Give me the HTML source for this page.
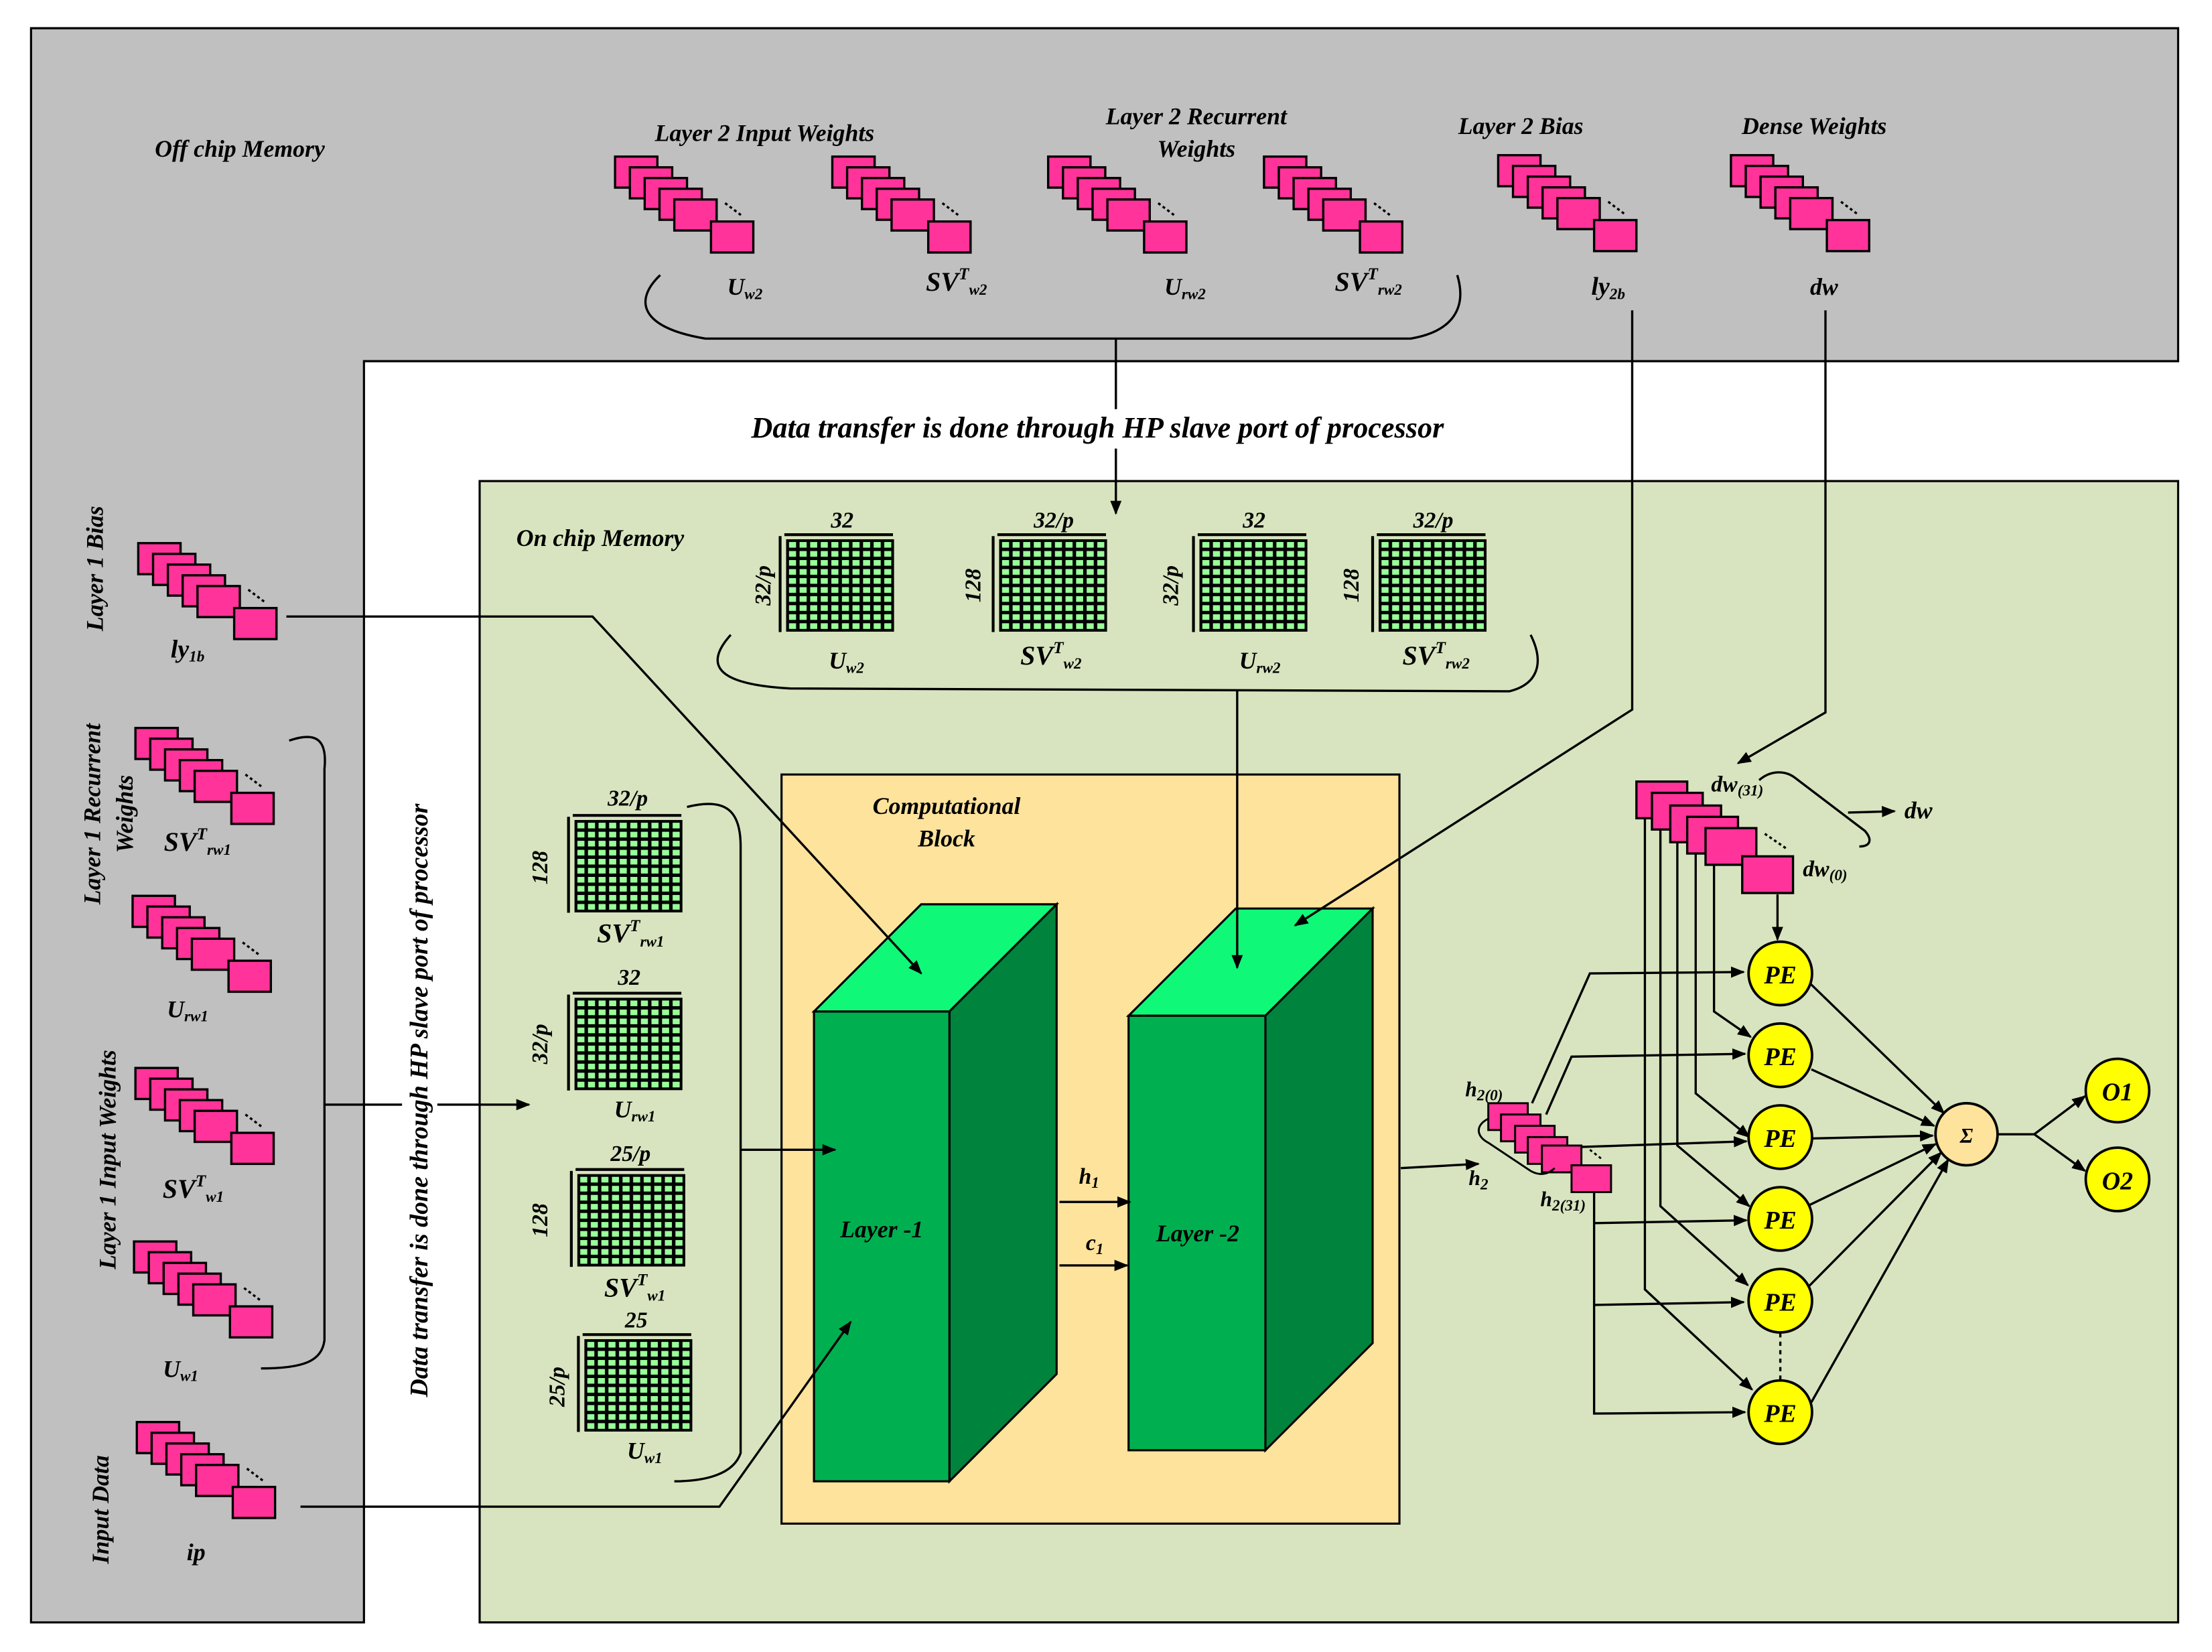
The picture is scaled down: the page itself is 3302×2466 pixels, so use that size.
<!DOCTYPE html>
<html><head><meta charset="utf-8"><style>
html,body{margin:0;padding:0;background:#fff}
svg{display:block}
text{font-family:"Liberation Serif",serif;font-weight:bold;font-style:italic;fill:#000}
</style></head><body>
<svg width="3302" height="2466" viewBox="0 0 1568 1171" preserveAspectRatio="none" xmlns="http://www.w3.org/2000/svg">
<defs>
<marker id="a" markerWidth="10" markerHeight="8" refX="9" refY="4" orient="auto" markerUnits="userSpaceOnUse"><path d="M0,0 L10,4 L0,8 z" fill="#000"/></marker>
<pattern id="grid" width="7.5" height="6.4" patternUnits="userSpaceOnUse"><rect width="7.5" height="6.4" fill="#000"/><rect x="1.3" y="1.2" width="5" height="4" fill="#99ff99"/></pattern>
<g id="stk" stroke="#000" stroke-width="1.6" fill="#ff3399">
<rect x="0" y="0" width="30" height="22"/>
<rect x="10.5" y="7.6" width="30" height="22"/>
<rect x="21" y="15.2" width="30" height="22"/>
<rect x="31.5" y="22.8" width="30" height="22"/>
<rect x="42" y="30.4" width="30" height="22"/>
<rect x="68" y="46" width="30" height="22"/>
<line x1="78" y1="33" x2="90" y2="42" stroke-dasharray="2,2" fill="none"/>
</g>
<g id="mx"><rect x="0" y="0" width="75" height="64" fill="url(#grid)" stroke="#000" stroke-width="1.5"/><line x1="-2" y1="-4" x2="75" y2="-4" stroke="#000" stroke-width="2"/><line x1="-5" y1="-3" x2="-5" y2="65" stroke="#000" stroke-width="2"/></g>
</defs>

<polygon points="22,20 1544,20 1544,256 258,256 258,1150 22,1150" fill="#c0c0c0" stroke="#000" stroke-width="1.5"/>
<rect x="340" y="341" width="1204" height="809" fill="#d8e4bf" stroke="#000" stroke-width="1.5"/>
<rect x="554" y="549" width="438" height="531" fill="#fde39c" stroke="#000" stroke-width="1.5"/>

<text x="170" y="111" font-size="17" text-anchor="middle">Off chip Memory</text>
<text x="542" y="100" font-size="17" text-anchor="middle">Layer 2 Input Weights</text>
<text x="848" y="88" font-size="17" text-anchor="middle">Layer 2 Recurrent</text>
<text x="848" y="111" font-size="17" text-anchor="middle">Weights</text>
<text x="1078" y="95" font-size="17" text-anchor="middle">Layer 2 Bias</text>
<text x="1286" y="95" font-size="17" text-anchor="middle">Dense Weights</text>

<use href="#stk" x="436" y="111"/>
<use href="#stk" x="590" y="111"/>
<use href="#stk" x="743" y="111"/>
<use href="#stk" x="896" y="111"/>
<use href="#stk" x="1062" y="110"/>
<use href="#stk" x="1227" y="110"/>

<text x="528" y="209" font-size="17" text-anchor="middle">U<tspan font-size="11" dy="3">w2</tspan></text>
<text x="678" y="206" font-size="19" font-style="normal" text-anchor="middle">SV<tspan font-size="12" dy="-8">T</tspan><tspan font-size="11" dy="11" font-style="italic">w2</tspan></text>
<text x="840" y="209" font-size="17" text-anchor="middle">U<tspan font-size="11" dy="3">rw2</tspan></text>
<text x="970" y="206" font-size="19" font-style="normal" text-anchor="middle">SV<tspan font-size="12" dy="-8">T</tspan><tspan font-size="11" dy="11" font-style="italic">rw2</tspan></text>
<text x="1140" y="209" font-size="18" font-style="normal" text-anchor="middle">ly<tspan font-size="11" dy="3" font-style="italic">2b</tspan></text>
<text x="1293" y="209" font-size="17" text-anchor="middle">dw</text>

<g fill="none" stroke="#000" stroke-width="1.6">
<path d="M468,195 C450,212 452,232 500,240 L1000,240 C1030,235 1040,218 1033,195"/>
<line x1="791" y1="240" x2="791" y2="290"/>
<line x1="791" y1="318" x2="791" y2="364" marker-end="url(#a)"/>
<path d="M1294,220 L1294,505 L1232,541" marker-end="url(#a)"/>
</g>
<text x="778" y="310" font-size="21" text-anchor="middle">Data transfer is done through HP slave port of processor</text>

<text x="366" y="387" font-size="17">On chip Memory</text>

<use href="#mx" x="558" y="383"/>
<use href="#mx" x="709" y="383"/>
<use href="#mx" x="851" y="383"/>
<use href="#mx" x="978" y="383"/>
<text x="597" y="374" font-size="16" text-anchor="middle">32</text>
<text x="747" y="374" font-size="16" text-anchor="middle">32/p</text>
<text x="889" y="374" font-size="16" text-anchor="middle">32</text>
<text x="1016" y="374" font-size="16" text-anchor="middle">32/p</text>
<text transform="translate(546,415) rotate(-90)" font-size="16" text-anchor="middle">32/p</text>
<text transform="translate(695,415) rotate(-90)" font-size="16" text-anchor="middle">128</text>
<text transform="translate(835,415) rotate(-90)" font-size="16" text-anchor="middle">32/p</text>
<text transform="translate(963,415) rotate(-90)" font-size="16" text-anchor="middle">128</text>
<text x="600" y="474" font-size="17" text-anchor="middle">U<tspan font-size="11" dy="3">w2</tspan></text>
<text x="745" y="471" font-size="19" font-style="normal" text-anchor="middle">SV<tspan font-size="12" dy="-8">T</tspan><tspan font-size="11" dy="11" font-style="italic">w2</tspan></text>
<text x="893" y="474" font-size="17" text-anchor="middle">U<tspan font-size="11" dy="3">rw2</tspan></text>
<text x="1018" y="471" font-size="19" font-style="normal" text-anchor="middle">SV<tspan font-size="12" dy="-8">T</tspan><tspan font-size="11" dy="11" font-style="italic">rw2</tspan></text>
<path d="M518,450 C500,470 505,485 560,488 L1070,490 C1090,485 1095,470 1085,450" fill="none" stroke="#000" stroke-width="1.6"/>

<text transform="translate(73,403) rotate(-90)" font-size="17" text-anchor="middle">Layer 1 Bias</text>
<text transform="translate(71,577) rotate(-90)" font-size="17" text-anchor="middle">Layer 1 Recurrent</text>
<text transform="translate(94,577) rotate(-90)" font-size="17" text-anchor="middle">Weights</text>
<text transform="translate(82,822) rotate(-90)" font-size="17" text-anchor="middle">Layer 1 Input Weights</text>
<text transform="translate(77,1070) rotate(-90)" font-size="17" text-anchor="middle">Input Data</text>

<use href="#stk" x="98" y="385"/>
<use href="#stk" x="96" y="516"/>
<use href="#stk" x="94" y="635"/>
<use href="#stk" x="96" y="757"/>
<use href="#stk" x="95" y="880"/>
<use href="#stk" x="97" y="1008"/>

<text x="133" y="466" font-size="18" font-style="normal" text-anchor="middle">ly<tspan font-size="11" dy="3">1b</tspan></text>
<text x="140" y="603" font-size="19" font-style="normal" text-anchor="middle">SV<tspan font-size="12" dy="-8">T</tspan><tspan font-size="11" dy="11" font-style="italic">rw1</tspan></text>
<text x="133" y="721" font-size="17" text-anchor="middle">U<tspan font-size="11" dy="3">rw1</tspan></text>
<text x="137" y="849" font-size="19" text-anchor="middle">SV<tspan font-size="12" dy="-8">T</tspan><tspan font-size="11" dy="11">w1</tspan></text>
<text x="128" y="976" font-size="17" text-anchor="middle">U<tspan font-size="11" dy="3">w1</tspan></text>
<text x="139" y="1106" font-size="17" text-anchor="middle">ip</text>

<g fill="none" stroke="#000" stroke-width="1.6">
<path d="M205,525 C225,518 232,525 230,545 L230,950 C228,965 215,970 185,970"/>
<line x1="230" y1="783" x2="285" y2="783"/>
<line x1="310" y1="783" x2="375" y2="783" marker-end="url(#a)"/>
<path d="M487,572 C515,565 525,575 525,600 L525,1030 C520,1045 500,1050 478,1050"/>
</g>
<text transform="translate(303,780) rotate(-90)" font-size="18" text-anchor="middle">Data transfer is done through HP slave port of processor</text>

<use href="#mx" x="408" y="582"/>
<use href="#mx" x="408" y="708"/>
<use href="#mx" x="410" y="833"/>
<use href="#mx" x="415" y="950"/>
<text x="445" y="571" font-size="16" text-anchor="middle">32/p</text>
<text x="446" y="698" font-size="16" text-anchor="middle">32</text>
<text x="447" y="823" font-size="16" text-anchor="middle">25/p</text>
<text x="451" y="941" font-size="16" text-anchor="middle">25</text>
<text transform="translate(388,615) rotate(-90)" font-size="16" text-anchor="middle">128</text>
<text transform="translate(388,740) rotate(-90)" font-size="16" text-anchor="middle">32/p</text>
<text transform="translate(388,865) rotate(-90)" font-size="16" text-anchor="middle">128</text>
<text transform="translate(400,983) rotate(-90)" font-size="16" text-anchor="middle">25/p</text>
<text x="447" y="668" font-size="19" font-style="normal" text-anchor="middle">SV<tspan font-size="12" dy="-8">T</tspan><tspan font-size="11" dy="11" font-style="italic">rw1</tspan></text>
<text x="450" y="792" font-size="17" text-anchor="middle">U<tspan font-size="11" dy="3">rw1</tspan></text>
<text x="450" y="919" font-size="19" text-anchor="middle">SV<tspan font-size="12" dy="-8">T</tspan><tspan font-size="11" dy="11">w1</tspan></text>
<text x="457" y="1034" font-size="17" text-anchor="middle">U<tspan font-size="11" dy="3">w1</tspan></text>

<text x="671" y="577" font-size="17" text-anchor="middle">Computational</text>
<text x="671" y="600" font-size="17" text-anchor="middle">Block</text>
<g stroke="#000" stroke-width="1.5">
<polygon points="577,717 653,641 749,641 673,717" fill="#10f878"/>
<polygon points="673,717 749,641 749,974 673,1050" fill="#00843d"/>
<rect x="577" y="717" width="96" height="333" fill="#00b050"/>
<polygon points="800,720 876,644 973,644 897,720" fill="#10f878"/>
<polygon points="897,720 973,644 973,952 897,1028" fill="#00843d"/>
<rect x="800" y="720" width="97" height="308" fill="#00b050"/>
</g>
<g fill="none" stroke="#000" stroke-width="1.6">
<path d="M203,437 L420,437 L653,690" marker-end="url(#a)"/>
<path d="M213,1068 L510,1068 L603,937" marker-end="url(#a)"/>
<line x1="525" y1="815" x2="592" y2="815" marker-end="url(#a)"/>
<line x1="877" y1="490" x2="877" y2="686" marker-end="url(#a)"/>
<path d="M1157,220 L1157,503 L918,656" marker-end="url(#a)"/>
<line x1="751" y1="852" x2="801" y2="852" marker-end="url(#a)"/>
<line x1="751" y1="897" x2="799" y2="897" marker-end="url(#a)"/>
<line x1="993" y1="828" x2="1048" y2="825" marker-end="url(#a)"/>
</g>
<text x="625" y="877" font-size="17" text-anchor="middle">Layer -1</text>
<text x="849" y="880" font-size="17" text-anchor="middle">Layer -2</text>
<text x="772" y="839" font-size="16" text-anchor="middle">h<tspan font-size="11" dy="3">1</tspan></text>
<text x="776" y="886" font-size="16" text-anchor="middle">c<tspan font-size="11" dy="3">1</tspan></text>

<g stroke="#000" stroke-width="1.4" fill="#ff3399">
<rect x="1055" y="782" width="28" height="19"/>
<rect x="1064" y="790" width="28" height="19"/>
<rect x="1074" y="798" width="28" height="19"/>
<rect x="1083" y="806" width="28" height="19"/>
<rect x="1093" y="812" width="28" height="19"/>
<rect x="1114" y="826" width="28" height="19"/>
<line x1="1127" y1="815" x2="1136" y2="822" stroke-dasharray="2,2" fill="none"/>
</g>
<text x="1052" y="777" font-size="15" text-anchor="middle">h<tspan font-size="11" dy="3">2(0)</tspan></text>
<text x="1048" y="840" font-size="15" text-anchor="middle">h<tspan font-size="11" dy="3">2</tspan></text>
<text x="1108" y="855" font-size="15" text-anchor="middle">h<tspan font-size="11" dy="3">2(31)</tspan></text>
<path d="M1055,793 C1045,798 1047,806 1055,810 L1085,830 C1092,834 1098,832 1102,828" fill="none" stroke="#000" stroke-width="1.4"/>

<g stroke="#000" stroke-width="1.6" fill="#ff3399">
<rect x="1160" y="554" width="36" height="26"/>
<rect x="1171" y="562" width="36" height="26"/>
<rect x="1184" y="571" width="36" height="26"/>
<rect x="1196" y="579" width="36" height="26"/>
<rect x="1209" y="587" width="36" height="26"/>
<rect x="1235" y="607" width="36" height="26"/>
<line x1="1251" y1="591" x2="1267" y2="602" stroke-dasharray="2,2" fill="none"/>
</g>
<text x="1213" y="561" font-size="16">dw<tspan font-size="11" dy="3">(31)</tspan></text>
<text x="1278" y="621" font-size="16">dw<tspan font-size="11" dy="3">(0)</tspan></text>
<text x="1350" y="580" font-size="17">dw</text>
<g fill="none" stroke="#000" stroke-width="1.6">
<path d="M1247,553 C1255,546 1265,546 1272,551 L1322,589 C1328,596 1325,600 1318,600"/>
<line x1="1310" y1="576" x2="1343" y2="575" marker-end="url(#a)"/>
<line x1="1260" y1="634" x2="1260" y2="666" marker-end="url(#a)"/>
<path d="M1215,613 L1215,717 L1241,735" marker-end="url(#a)"/>
<path d="M1202,605 L1202,775 L1240,806" marker-end="url(#a)"/>
<path d="M1189,597 L1189,812 L1240,855" marker-end="url(#a)"/>
<path d="M1177,588 L1177,855 L1239,911" marker-end="url(#a)"/>
<path d="M1166,580 L1166,914 L1242,985" marker-end="url(#a)"/>
<path d="M1086,782 L1127,690 L1236,689" marker-end="url(#a)"/>
<path d="M1096,790 L1114,749 L1237,747" marker-end="url(#a)"/>
<line x1="1121" y1="813" x2="1238" y2="809" marker-end="url(#a)"/>
<path d="M1130,845 L1130,1002 L1237,1001" marker-end="url(#a)"/>
<line x1="1130" y1="867" x2="1238" y2="865" marker-end="url(#a)"/>
<line x1="1130" y1="925" x2="1236" y2="923" marker-end="url(#a)"/>
<line x1="1262" y1="945" x2="1262" y2="978" stroke-dasharray="3,3"/>
<line x1="1283" y1="697" x2="1378" y2="789" marker-end="url(#a)"/>
<line x1="1284" y1="758" x2="1371" y2="798" marker-end="url(#a)"/>
<line x1="1284" y1="807" x2="1370" y2="805" marker-end="url(#a)"/>
<line x1="1283" y1="854" x2="1372" y2="811" marker-end="url(#a)"/>
<line x1="1282" y1="912" x2="1376" y2="817" marker-end="url(#a)"/>
<line x1="1284" y1="994" x2="1381" y2="822" marker-end="url(#a)"/>
<path d="M1415,804 L1442,804 L1478,777" marker-end="url(#a)"/>
<line x1="1442" y1="804" x2="1478" y2="830" marker-end="url(#a)"/>
</g>
<g stroke="#000" stroke-width="1.8" fill="#ffff00">
<circle cx="1262" cy="690" r="22.5"/>
<circle cx="1262" cy="748" r="22.5"/>
<circle cx="1262" cy="806" r="22.5"/>
<circle cx="1262" cy="864" r="22.5"/>
<circle cx="1262" cy="922" r="22.5"/>
<circle cx="1262" cy="1001" r="22.5"/>
<circle cx="1501" cy="773" r="22.5"/>
<circle cx="1501" cy="836" r="22.5"/>
<circle cx="1394" cy="804" r="22" fill="#fde39c"/>
</g>
<g font-size="18" text-anchor="middle">
<text x="1262" y="697">PE</text><text x="1262" y="755">PE</text><text x="1262" y="813">PE</text>
<text x="1262" y="871">PE</text><text x="1262" y="929">PE</text><text x="1262" y="1008">PE</text>
<text x="1501" y="780">O1</text><text x="1501" y="843">O2</text>
</g>
<text x="1394" y="810" font-size="15" font-weight="normal" font-style="normal" text-anchor="middle">Σ</text>
</svg>
</body></html>
